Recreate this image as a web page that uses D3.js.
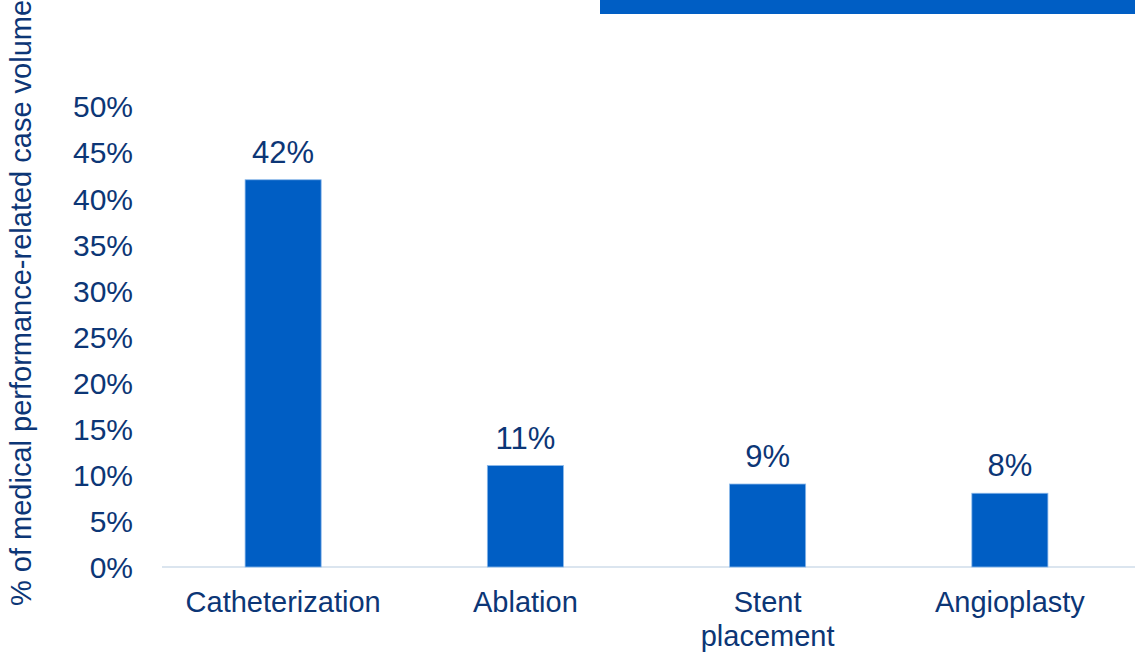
<!DOCTYPE html>
<html>
<head>
<meta charset="utf-8">
<script src="https://cdn.jsdelivr.net/npm/d3@7"></script>
<style>
  body { margin: 0; background: #fff; }
  text { font-family: "Liberation Sans", Arial, sans-serif; fill: #0c3676; }
</style>
</head>
<body>
<svg id="chart" width="1135" height="652"></svg>
<script>
// chart data
const categories = ["Catheterization", "Ablation", "Stent placement", "Angioplasty"];
const shares = [42, 11, 9, 8];
const yTicks = [0, 5, 10, 15, 20, 25, 30, 35, 40, 45, 50];
const yTitle = "% of medical performance-related case volume";

const BAR_COLOR = "#005ec4", TEXT_COLOR = "#0c3676";

const svg = d3.select("#chart");

// banner strip at top right
svg.append("rect")
    .attr("x", 600).attr("y", 0)
    .attr("width", 535).attr("height", 14)
    .attr("fill", BAR_COLOR);

const x = d3.scaleBand().domain(categories).range([162, 1131])
    .paddingInner(0.686).paddingOuter(0.343);
const y = d3.scaleLinear().domain([0, 50]).range([567, 106]);

// y axis labels (no line, no ticks)
const yAxis = svg.append("g")
    .attr("transform", "translate(133,0)")
    .call(d3.axisLeft(y).tickValues(yTicks).tickSize(0).tickPadding(0)
              .tickFormat(d => d + "%"));
yAxis.select(".domain").remove();
yAxis.selectAll("text")
    .style("font-size", "30px")
    .attr("fill", TEXT_COLOR)
    .attr("dy", "0.36em");

// baseline
svg.append("line")
    .attr("x1", 162).attr("x2", 1135)
    .attr("y1", y(0)).attr("y2", y(0))
    .attr("stroke", "#dbe5ef").attr("stroke-width", 2);

// bars
svg.selectAll("rect.bar").data(shares).enter().append("rect")
    .attr("class", "bar")
    .attr("x", (d, i) => x(categories[i]))
    .attr("y", d => y(d))
    .attr("width", x.bandwidth())
    .attr("height", d => y(0) - y(d))
    .attr("fill", BAR_COLOR)
    .attr("stroke", "#8ab8ea").attr("stroke-width", 0.8);

// value labels
svg.selectAll("text.val").data(shares).enter().append("text")
    .attr("class", "val")
    .attr("x", (d, i) => x(categories[i]) + x.bandwidth() / 2)
    .attr("y", d => y(d) - 17)
    .attr("text-anchor", "middle")
    .style("font-size", "31px")
    .text(d => d + "%");

// category labels, wrapping "Stent placement"
const cat = svg.selectAll("text.cat").data(categories).enter().append("text")
    .attr("class", "cat")
    .attr("x", d => x(d) + x.bandwidth() / 2)
    .attr("y", 612)
    .attr("text-anchor", "middle")
    .style("font-size", "29px");
cat.each(function(d) {
  let words = d === "Stent placement" ? ["Stent", "placement"] : [d];
  let t = d3.select(this);
  words.forEach((w, i) => {
    t.append("tspan")
        .attr("x", x(d) + x.bandwidth() / 2)
        .attr("dy", i === 0 ? 0 : 34)
        .text(w);
  });
});

// y axis title
svg.append("text")
    .attr("transform", "translate(31,606) rotate(-90)")
    .attr("text-anchor", "start")
    .style("font-size", "29px")
    .text(yTitle);
</script>
</body>
</html>
